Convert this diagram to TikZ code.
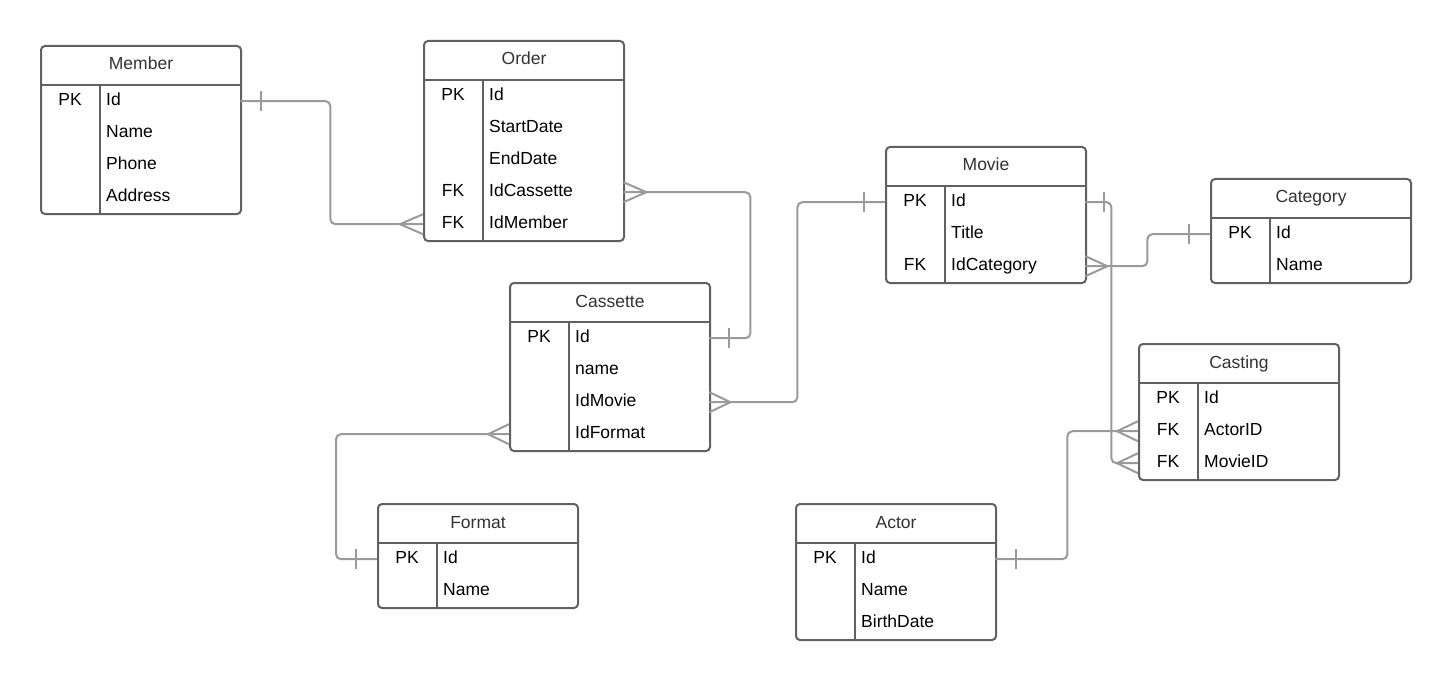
\documentclass[tikz,border=0pt]{standalone}
\usepackage{fontspec}
\setmainfont{Liberation Sans}
\usetikzlibrary{calc}

\definecolor{boxgray}{HTML}{616161}
\definecolor{linkgray}{HTML}{9A9A9A}
\definecolor{titlegray}{HTML}{333333}

\tikzset{
  entitybox/.style={draw=boxgray, line width=2pt, rounded corners=4pt, fill=white,
    minimum width=200pt, inner sep=0pt},
  boxline/.style={draw=boxgray, line width=2pt},
  rowslot/.style={minimum width=200pt, minimum height=32pt, inner sep=0pt},
  titletext/.style={text=titlegray, inner sep=0pt, font=\fontsize{17.5}{20}\selectfont},
  keytext/.style={text=black, inner sep=0pt, font=\fontsize{17.5}{20}\selectfont},
  fieldtext/.style={text=black, inner sep=0pt, font=\fontsize{17.5}{20}\selectfont},
  rel/.style={draw=linkgray, line width=2pt, rounded corners=5pt},
  relmark/.style={draw=linkgray, line width=2pt},
}

% #1 name, #2 left, #3 top, #4 title, #5 number of rows, #6 key/field/tag list
\newcommand{\erentity}[6]{%
  \pgfmathsetmacro{\erh}{40+32*#5}
  \node[entitybox, minimum height=\erh pt, anchor=north west] (#1) at (#2,#3) {};
  \node[titletext, anchor=base] (#1-title) at ($(#1.north)+(0,25)$) {#4};
  \draw[boxline] ($(#1.north west)+(0,40)$) -- ($(#1.north east)+(0,40)$);
  \draw[boxline] ($(#1.north west)+(60,40)$) -- ($(#1.south west)+(60,0)$);
  \foreach \kk/\ff/\tg [count=\ii from 0] in {#6} {
    \node[rowslot, anchor=north west] (#1-\tg) at ($(#1.north west)+(0,{40+32*\ii})$) {};
    \node[keytext, anchor=base] at ($(#1-\tg.north west)+(30,20.5)$) {\kk};
    \node[fieldtext, anchor=base west] at ($(#1-\tg.north west)+(66,20.5)$) {\ff};
  }
}

% crow's foot at an entity edge; #2 is the offset of the tip along x
\newcommand{\crowfoot}[2]{%
  \draw[relmark] ($(#1)+(0,-10)$) -- ($(#1)+(#2,0)$) -- ($(#1)+(0,10)$);
}
% single bar across a connector; #2 is its offset along x
\newcommand{\onebar}[2]{%
  \draw[relmark] ($(#1)+(#2,-10)$) -- ($(#1)+(#2,10)$);
}

\begin{document}
\begin{tikzpicture}[x=1pt, y=-1pt]
\useasboundingbox[fill=white] (0,0) rectangle (1450,679);

\erentity{member}{40}{45}{Member}{4}{PK/Id/id, {}/Name/name, {}/Phone/phone, {}/Address/address}
\erentity{order}{423}{40}{Order}{5}{PK/Id/id, {}/StartDate/startdate, {}/EndDate/enddate, FK/IdCassette/idcassette, FK/IdMember/idmember}
\erentity{cassette}{509}{282}{Cassette}{4}{PK/Id/id, {}/name/name, {}/IdMovie/idmovie, {}/IdFormat/idformat}
\erentity{format}{377}{503}{Format}{2}{PK/Id/id, {}/Name/name}
\erentity{movie}{885}{146}{Movie}{3}{PK/Id/id, {}/Title/title, FK/IdCategory/idcategory}
\erentity{category}{1210}{178}{Category}{2}{PK/Id/id, {}/Name/name}
\erentity{casting}{1138}{343}{Casting}{3}{PK/Id/id, FK/ActorID/actorid, FK/MovieID/movieid}
\erentity{actor}{795}{503}{Actor}{3}{PK/Id/id, {}/Name/name, {}/BirthDate/birthdate}

% Member 1 -- n Order
\draw[rel] (member-id.east) -- ++(90,0) |- (order-idmember.west);
\onebar{member-id.east}{21}
\crowfoot{order-idmember.west}{-23}

% Cassette 1 -- n Order
\draw[rel] (order-idcassette.east) -- ++(127,0) |- (cassette-id.east);
\crowfoot{order-idcassette.east}{23}
\onebar{cassette-id.east}{20}

% Movie 1 -- n Cassette
\draw[rel] (cassette-idmovie.east) -- ++(88,0) |- (movie-id.west);
\crowfoot{cassette-idmovie.east}{21}
\onebar{movie-id.west}{-21}

% Format 1 -- n Cassette
\draw[rel] (cassette-idformat.west) -- ++(-173,0) |- (format-id.west);
\crowfoot{cassette-idformat.west}{-21}
\onebar{format-id.west}{-21}

% Category 1 -- n Movie
\draw[rel] (movie-idcategory.east) -- ++(62,0) |- (category-id.west);
\crowfoot{movie-idcategory.east}{22}
\onebar{category-id.west}{-21}

% Movie 1 -- n Casting
\draw[rel] (movie-id.east) -- ++(26,0) |- (casting-movieid.west);
\onebar{movie-id.east}{19}
\crowfoot{casting-movieid.west}{-21}

% Actor 1 -- n Casting
\draw[rel] (actor-id.east) -- ++(72,0) |- (casting-actorid.west);
\onebar{actor-id.east}{21}
\crowfoot{casting-actorid.west}{-21}

\end{tikzpicture}
\end{document}
